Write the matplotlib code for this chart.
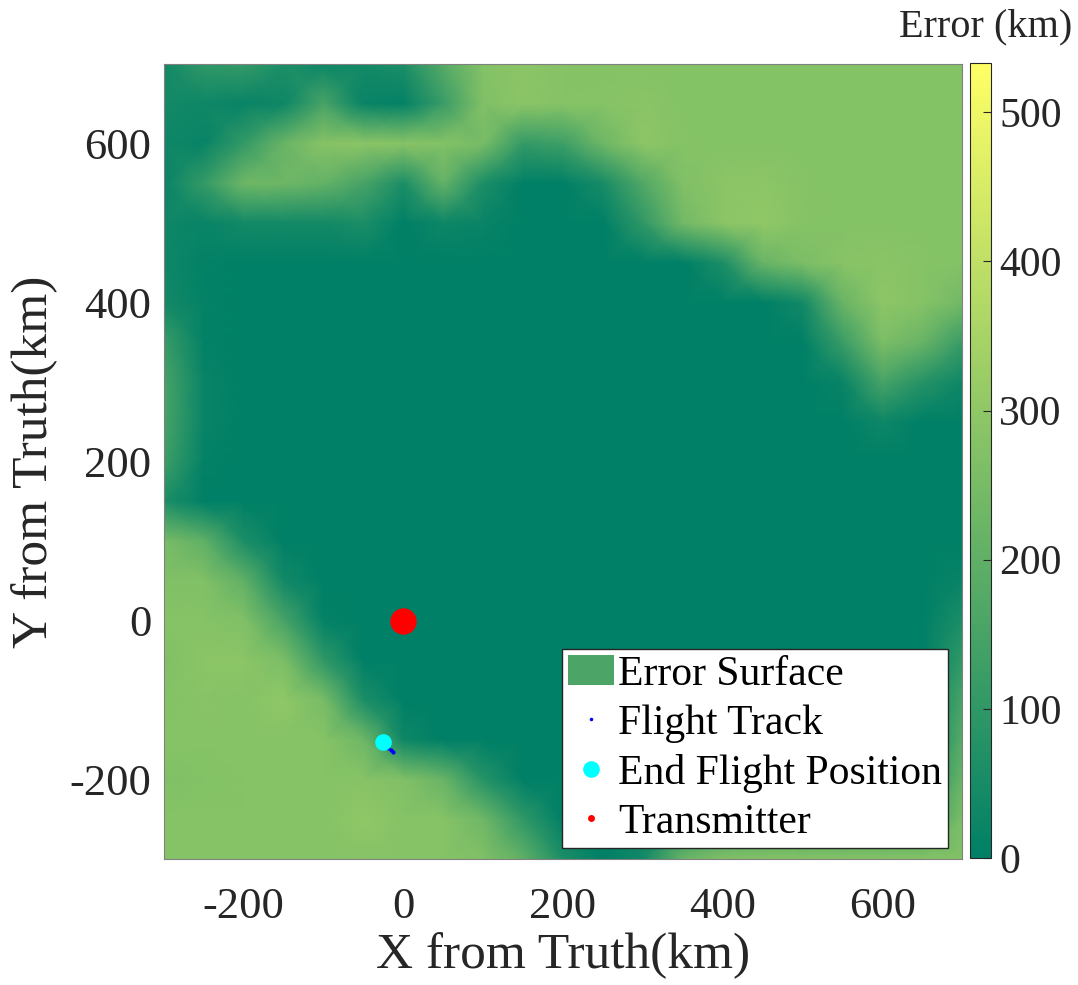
import numpy as np
import matplotlib
matplotlib.use("Agg")
import matplotlib.pyplot as plt
from matplotlib.patches import Patch
from matplotlib.lines import Line2D

plt.rcParams['font.family'] = ['Liberation Serif', 'DejaVu Serif']
plt.rcParams['axes.unicode_minus'] = False

# Grid coordinates (km)
x_grid = [-300, -250, -200, -150, -100, -50, 0, 50, 100, 150, 200, 250, 300, 350, 400, 450, 500, 550, 600, 650, 700]
y_grid = [700, 650, 600, 550, 500, 450, 400, 350, 300, 250, 200, 150, 100, 50, 0, -50, -100, -150, -200, -250, -300]

# Error surface values (km), one row per y, listed top to bottom
row_700 = [40, 100, 110, 60, 30, 40, 60, 180, 275, 290, 280, 275, 275, 275, 275, 275, 275, 275, 275, 275, 275]
row_650 = [40, 30, 20, 30, 150, 20, 10, 120, 270, 290, 280, 280, 290, 275, 275, 275, 275, 275, 275, 275, 275]
row_600 = [30, 20, 110, 220, 285, 290, 285, 275, 250, 110, 130, 230, 295, 280, 275, 275, 275, 275, 275, 275, 275]
row_550 = [20, 110, 230, 230, 210, 150, 60, 210, 60, 0, 0, 50, 170, 270, 290, 295, 280, 275, 275, 275, 275]
row_500 = [30, 20, 40, 40, 40, 60, 0, 30, 20, 0, 0, 0, 100, 240, 290, 300, 280, 275, 275, 275, 275]
row_450 = [30, 10, 0, 0, 0, 0, 0, 0, 0, 0, 0, 0, 0, 0, 60, 220, 260, 285, 290, 280, 275]
row_400 = [40, 10, 0, 0, 0, 0, 0, 0, 0, 0, 0, 0, 0, 0, 0, 0, 40, 220, 295, 280, 240]
row_350 = [120, 10, 0, 0, 0, 0, 0, 0, 0, 0, 0, 0, 0, 0, 0, 0, 0, 120, 260, 220, 120]
row_300 = [150, 20, 0, 0, 0, 0, 0, 0, 0, 0, 0, 0, 0, 0, 0, 0, 0, 20, 150, 80, 30]
row_250 = [150, 20, 0, 0, 0, 0, 0, 0, 0, 0, 0, 0, 0, 0, 0, 0, 0, 0, 30, 0, 0]
row_200 = [130, 10, 0, 0, 0, 0, 0, 0, 0, 0, 0, 0, 0, 0, 0, 0, 0, 0, 0, 0, 0]
row_150 = [60, 0, 0, 0, 0, 0, 0, 0, 0, 0, 0, 0, 0, 0, 0, 0, 0, 0, 0, 0, 0]
row_100 = [250, 200, 60, 0, 0, 0, 0, 0, 0, 0, 0, 0, 0, 0, 0, 0, 0, 0, 0, 0, 0]
row_50 = [270, 270, 200, 40, 0, 0, 0, 0, 0, 0, 0, 0, 0, 0, 0, 0, 0, 0, 0, 0, 20]
row_0 = [280, 280, 270, 150, 10, 0, 0, 0, 0, 0, 0, 0, 0, 0, 0, 0, 0, 0, 0, 0, 60]
row_m50 = [270, 290, 290, 260, 100, 0, 0, 0, 0, 0, 0, 0, 0, 0, 0, 0, 0, 0, 0, 0, 100]
row_m100 = [275, 285, 280, 300, 250, 60, 0, 0, 0, 0, 0, 0, 0, 0, 0, 0, 0, 0, 0, 0, 150]
row_m150 = [280, 280, 280, 280, 280, 230, 30, 0, 0, 0, 0, 0, 0, 0, 0, 0, 0, 0, 0, 0, 180]
row_m200 = [270, 275, 280, 280, 280, 285, 270, 220, 80, 0, 0, 0, 0, 0, 0, 0, 0, 0, 0, 40, 220]
row_m250 = [280, 280, 280, 280, 280, 300, 280, 280, 230, 100, 0, 0, 30, 60, 100, 120, 120, 120, 120, 120, 260]
row_m300 = [280, 280, 280, 280, 280, 280, 280, 280, 270, 200, 60, 0, 40, 220, 270, 275, 275, 275, 275, 275, 275]

error_rows = [row_700, row_650, row_600, row_550, row_500, row_450, row_400, row_350,
              row_300, row_250, row_200, row_150, row_100, row_50, row_0, row_m50,
              row_m100, row_m150, row_m200, row_m250, row_m300]

# Flight track, end position and transmitter (km)
track_x = [-13, -16, -19, -22, -25]
track_y = [-166, -163, -160, -157, -153]
end_x = [-25]
end_y = [-153]
tx_x = [0]
tx_y = [0]

cmax = 533

fig = plt.figure(figsize=(10.78, 9.85), dpi=100)
ax = fig.add_axes([164/1078, 1-859/985, 798/1078, 795/985])
cax = fig.add_axes([970/1078, 1-858/985, 21/1078, 795/985])

X, Y = np.meshgrid(x_grid, y_grid)
Z = np.array(error_rows, dtype=float)
mesh = ax.pcolormesh(X, Y, Z, cmap='summer', vmin=0, vmax=cmax, shading='gouraud')

ax.plot(track_x, track_y, '.', color='blue', markersize=4)
ax.plot(end_x, end_y, 'o', color='cyan', markersize=12, markeredgewidth=0)
ax.plot(tx_x, tx_y, 'o', color='red', markersize=19, markeredgewidth=0)

ax.set_xlim(-300, 700)
ax.set_ylim(-300, 700)
ax.set_xticks([-200, 0, 200, 400, 600])
ax.set_yticks([-200, 0, 200, 400, 600])
ax.tick_params(axis='x', labelsize=32, colors='#262626', direction='in', length=0, pad=20)
ax.tick_params(axis='y', labelsize=32, colors='#262626', direction='in', length=0, pad=9)
ax.set_xlabel('X from Truth(km)', fontsize=37, color='#262626', labelpad=4)
ax.set_ylabel('Y from Truth(km)', fontsize=37, color='#262626', labelpad=8)
for s in ax.spines.values():
    s.set_color('#808080')
    s.set_linewidth(0.8)

handles = [
    Patch(facecolor='#4CA467', edgecolor='none', label='Error Surface'),
    Line2D([], [], linestyle='none', marker='.', color='blue', markersize=3, label='Flight Track'),
    Line2D([], [], linestyle='none', marker='o', color='cyan', markersize=12, markeredgewidth=0, label='End Flight Position'),
    Line2D([], [], linestyle='none', marker='o', color='red', markersize=5, markeredgewidth=0, label='Transmitter'),
]
leg = ax.legend(handles=handles, loc='lower right', bbox_to_anchor=(0.9825, 0.0135),
                fontsize=30, frameon=True, fancybox=False, framealpha=1,
                edgecolor='#262626', handlelength=1.1, handletextpad=0.1,
                labelspacing=0.26, borderpad=0.15, borderaxespad=0)
leg.get_frame().set_linewidth(1.0)

cb = fig.colorbar(mesh, cax=cax)
cb.set_ticks([0, 100, 200, 300, 400, 500])
cax.tick_params(labelsize=30, colors='#262626', direction='in', length=6, width=0.8, pad=6)
cb.outline.set_edgecolor('#262626')
cb.outline.set_linewidth(0.8)
fig.text(1072/1078, 1-27/985, 'Error (km)', fontsize=29, color='#262626', ha='right', va='center')

fig.savefig('out.png', dpi=100)
